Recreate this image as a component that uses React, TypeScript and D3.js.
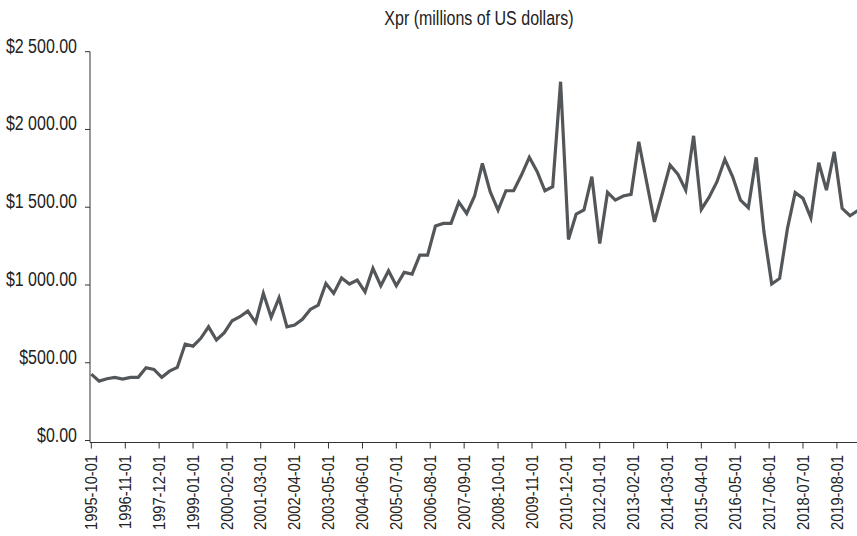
import React from "react";
import * as d3 from "d3";

const startDate = "1995-10-01";
const values: number[] = [
  427, 382, 397, 406, 395, 406, 406, 468, 457, 406,
  446, 470, 620, 607, 657, 731, 646, 693, 770, 796,
  832, 759, 946, 792, 918, 731, 742, 779, 843, 871,
  1010, 946, 1045, 1006, 1031, 956, 1107, 995, 1091, 995,
  1081, 1070, 1192, 1192, 1379, 1396, 1396, 1533, 1460, 1572,
  1782, 1600, 1482, 1606, 1606, 1707, 1821, 1728, 1606, 1632,
  2307, 1293, 1456, 1482, 1696, 1267, 1595, 1546, 1572, 1583,
  1921, 1664, 1406, 1588, 1771, 1713, 1610, 1959, 1486, 1565,
  1664, 1808, 1696, 1546, 1497, 1821, 1342, 1006, 1042, 1364,
  1595, 1557, 1432, 1786, 1610, 1857, 1493, 1445, 1478,
];
const tickDates: string[] = [
  "1995-10-01", "1996-11-01", "1997-12-01", "1999-01-01", "2000-02-01",
  "2001-03-01", "2002-04-01", "2003-05-01", "2004-06-01", "2005-07-01",
  "2006-08-01", "2007-09-01", "2008-10-01", "2009-11-01", "2010-12-01",
  "2012-01-01", "2013-02-01", "2014-03-01", "2015-04-01", "2016-05-01",
  "2017-06-01", "2018-07-01", "2019-08-01",
];
const yTicks: number[] = [0, 500, 1000, 1500, 2000, 2500];
const title = "Xpr (millions of US dollars)";

const W = 857;
const H = 536;
const FONT = "'Liberation Sans', Arial, sans-serif";
const LINE = "#53575a";

export default function App() {
  const parse = d3.utcParse("%Y-%m-%d");
  const start = parse(startDate)!;
  const data = values.map((v, i) => ({ date: d3.utcMonth.offset(start, i * 3), value: v }));
  const endDate = d3.utcMonth.offset(start, (values.length - 1) * 3);

  const x = d3.scaleUtc().domain([start, endDate]).range([91.3, 857.8]);
  const y = d3.scaleLinear().domain([0, 2500]).range([440.5, 51.7]);
  const axisY = 442.5;
  const axisX = 90;

  const locale = d3.formatLocale({ decimal: ".", thousands: " ", grouping: [3], currency: ["$", ""] });
  const fmt = locale.format("$,.2f");

  const line = d3
    .line<{ date: Date; value: number }>()
    .x((d) => x(d.date))
    .y((d) => y(d.value));

  return (
    <svg width={W} height={H} style={{ position: "absolute", left: 0, top: 0, background: "#fff" }}>
      <text
        transform="translate(479,25) scale(0.8,1)"
        textAnchor="middle"
        fontFamily={FONT}
        fontSize={20}
        fill="#222"
      >
        {title}
      </text>
      {/* y axis */}
      <line x1={axisX} x2={axisX} y1={y(2500)} y2={axisY} stroke="#333" strokeWidth={1} />
      {yTicks.map((t) => (
        <g key={t}>
          <line x1={axisX - 5} x2={axisX} y1={y(t)} y2={y(t)} stroke="#333" strokeWidth={1} />
          <text
            transform={`translate(77,${y(t) + 1}) scale(0.78,1)`}
            textAnchor="end"
            fontFamily={FONT}
            fontSize={20.5}
            fill="#222"
          >
            {fmt(t)}
          </text>
        </g>
      ))}
      {/* x axis */}
      <line x1={axisX} x2={W} y1={axisY} y2={axisY} stroke="#333" strokeWidth={1} />
      {tickDates.map((s) => {
        const tx = x(parse(s)!);
        return (
          <g key={s}>
            <line x1={tx} x2={tx} y1={axisY} y2={axisY + 6} stroke="#333" strokeWidth={1} />
            <text
              transform={`translate(${tx},455) rotate(-90) scale(0.9,1)`}
              textAnchor="end"
              dy="0.35em"
              fontFamily={FONT}
              fontSize={16.3}
              fill="#222"
            >
              {s}
            </text>
          </g>
        );
      })}
      <path d={line(data)!} fill="none" stroke={LINE} strokeWidth={3.2} strokeLinejoin="miter" />
    </svg>
  );
}
